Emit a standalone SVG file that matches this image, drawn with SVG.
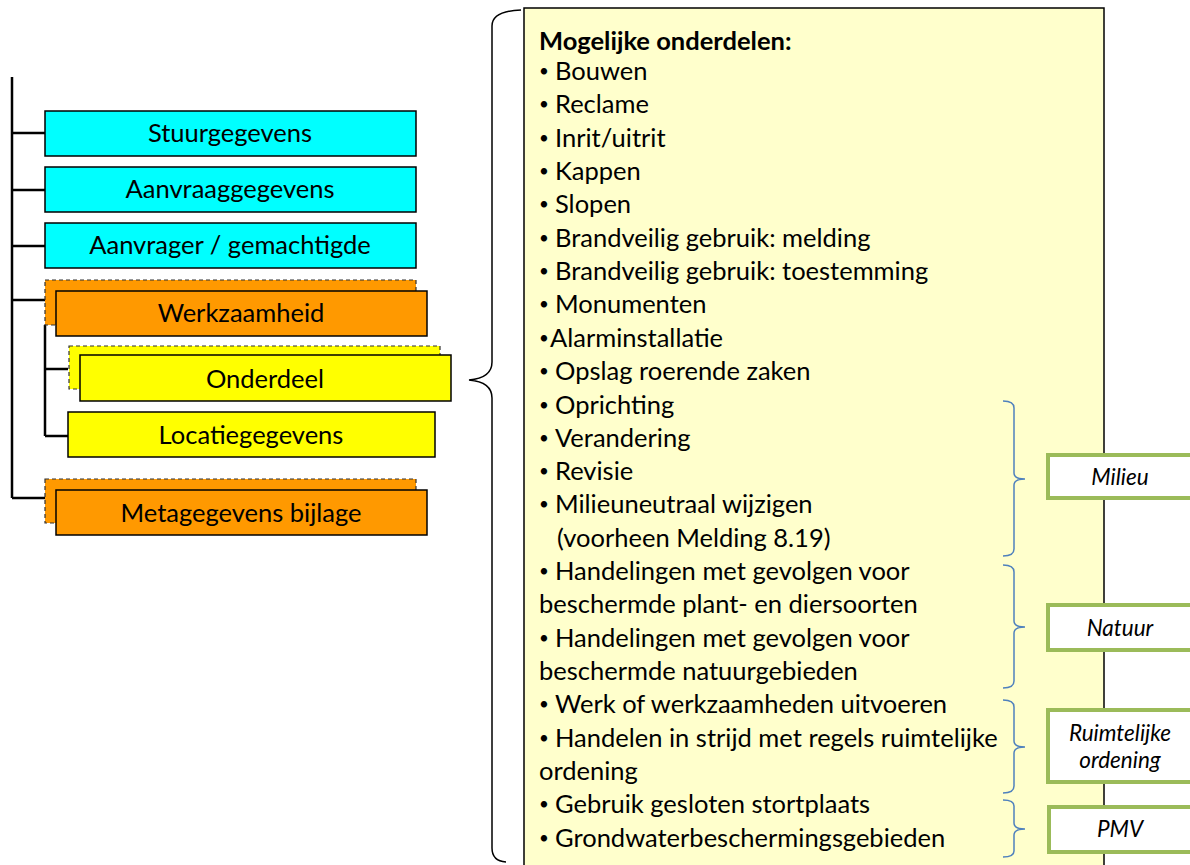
<svg xmlns="http://www.w3.org/2000/svg" width="1190" height="865" viewBox="0 0 1190 865">
<style>
.lbl{font-family:Lato,"Liberation Sans",sans-serif;font-size:25.5px;fill:#000;text-anchor:middle}
.box{stroke:#000;stroke-width:1.5}
.dash{stroke:#333;stroke-width:1.2;stroke-dasharray:4 3}
.cy{fill:#00FFFF}
.or{fill:#FF9900}
.ye{fill:#FFFF00}
.ln{stroke:#000;stroke-width:2.5;fill:none}
.t{font-family:Lato,"Liberation Sans",sans-serif;font-size:25.5px;fill:#000}
.b{font-size:17px}
.g{fill:#fff;stroke:#9BBB59;stroke-width:4}
.gt{font-family:Lato,"Liberation Sans",sans-serif;font-size:22.5px;font-style:italic;fill:#000;text-anchor:middle}
.br{stroke:#4F81BD;stroke-width:1.5;fill:none}
</style>
<rect width="1190" height="865" fill="#fff"/>
<g id="connectors">
<path class="ln" d="M12 77V498M12 133H45M12 190H45M12 246H45M12 300H45M12 498H45M45 325V436M45 369H68M45 436H68"/>
</g>
<g id="stuurgegevens"><rect class="box cy" x="45" y="111" width="371" height="45"/><text class="lbl" x="230" y="142">Stuurgegevens</text></g>
<g id="aanvraaggegevens"><rect class="box cy" x="45" y="167" width="371" height="45"/><text class="lbl" x="230" y="198">Aanvraaggegevens</text></g>
<g id="aanvrager"><rect class="box cy" x="45" y="223" width="371" height="45"/><text class="lbl" x="230" y="254">Aanvrager / gemachtigde</text></g>
<g id="werkzaamheid"><rect class="dash or" x="45" y="280" width="371" height="45"/><rect class="box or" x="56" y="291" width="371" height="45"/><text class="lbl" x="241" y="322">Werkzaamheid</text></g>
<g id="onderdeel"><rect class="dash ye" x="69" y="346" width="371" height="43"/><rect class="box ye" x="80" y="355" width="371" height="46"/><text class="lbl" x="265" y="388">Onderdeel</text></g>
<g id="locatiegegevens"><rect class="box ye" x="68" y="412" width="367" height="45"/><text class="lbl" x="251" y="444">Locatiegegevens</text></g>
<g id="metagegevens"><rect class="dash or" x="45" y="479" width="371" height="44"/><rect class="box or" x="56" y="490" width="371" height="45"/><text class="lbl" x="241" y="522">Metagegevens bijlage</text></g>
<g id="brace"><path d="M521 10Q492 11 492 26V362Q492 378 469 380Q492 382 492 398V848Q492 861 506 862" fill="none" stroke="#000" stroke-width="1.5"/></g>
<g id="onderdelen">
<rect x="524" y="8" width="580" height="870" fill="#FFFFCC" stroke="#000" stroke-width="1.5"/>
<text class="t" x="539" y="50" font-weight="bold">Mogelijke onderdelen:</text>
<text class="t" x="539" y="80"><tspan class="b" dy="-3">•</tspan><tspan x="555" dy="3">Bouwen</tspan></text>
<text class="t" x="539" y="113"><tspan class="b" dy="-3">•</tspan><tspan x="555" dy="3">Reclame</tspan></text>
<text class="t" x="539" y="147"><tspan class="b" dy="-3">•</tspan><tspan x="555" dy="3">Inrit/uitrit</tspan></text>
<text class="t" x="539" y="180"><tspan class="b" dy="-3">•</tspan><tspan x="555" dy="3">Kappen</tspan></text>
<text class="t" x="539" y="213"><tspan class="b" dy="-3">•</tspan><tspan x="555" dy="3">Slopen</tspan></text>
<text class="t" x="539" y="247"><tspan class="b" dy="-3">•</tspan><tspan x="555" dy="3">Brandveilig gebruik: melding</tspan></text>
<text class="t" x="539" y="280"><tspan class="b" dy="-3">•</tspan><tspan x="555" dy="3">Brandveilig gebruik: toestemming</tspan></text>
<text class="t" x="539" y="313"><tspan class="b" dy="-3">•</tspan><tspan x="555" dy="3">Monumenten</tspan></text>
<text class="t" x="539" y="347"><tspan class="b" dy="-3">•</tspan><tspan x="550" dy="3">Alarminstallatie</tspan></text>
<text class="t" x="539" y="380"><tspan class="b" dy="-3">•</tspan><tspan x="555" dy="3">Opslag roerende zaken</tspan></text>
<text class="t" x="539" y="414"><tspan class="b" dy="-3">•</tspan><tspan x="555" dy="3">Oprichting</tspan></text>
<text class="t" x="539" y="447"><tspan class="b" dy="-3">•</tspan><tspan x="555" dy="3">Verandering</tspan></text>
<text class="t" x="539" y="480"><tspan class="b" dy="-3">•</tspan><tspan x="555" dy="3">Revisie</tspan></text>
<text class="t" x="539" y="513"><tspan class="b" dy="-3">•</tspan><tspan x="555" dy="3">Milieuneutraal wijzigen</tspan></text>
<text class="t" x="557" y="547">(voorheen Melding 8.19)</text>
<text class="t" x="539" y="580"><tspan class="b" dy="-3">•</tspan><tspan x="555" dy="3">Handelingen met gevolgen voor</tspan></text>
<text class="t" x="539" y="613">beschermde plant- en diersoorten</text>
<text class="t" x="539" y="647"><tspan class="b" dy="-3">•</tspan><tspan x="555" dy="3">Handelingen met gevolgen voor</tspan></text>
<text class="t" x="539" y="680">beschermde natuurgebieden</text>
<text class="t" x="539" y="713"><tspan class="b" dy="-3">•</tspan><tspan x="555" dy="3">Werk of werkzaamheden uitvoeren</tspan></text>
<text class="t" x="539" y="747"><tspan class="b" dy="-3">•</tspan><tspan x="555" dy="3">Handelen in strijd met regels ruimtelijke</tspan></text>
<text class="t" x="539" y="780">ordening</text>
<text class="t" x="539" y="813"><tspan class="b" dy="-3">•</tspan><tspan x="555" dy="3">Gebruik gesloten stortplaats</tspan></text>
<text class="t" x="539" y="847"><tspan class="b" dy="-3">•</tspan><tspan x="555" dy="3">Grondwaterbeschermingsgebieden</tspan></text>
</g>
<g id="braces">
<path class="br" d="M1003 401Q1014 401 1014 408V473Q1014 479 1025 479Q1014 479 1014 485V549Q1014 556 1003 556"/>
<path class="br" d="M1003 565Q1014 565 1014 572V621Q1014 627 1025 627Q1014 627 1014 633V681Q1014 688 1003 688"/>
<path class="br" d="M1003 700Q1014 700 1014 707V741Q1014 747 1025 747Q1014 747 1014 753V786Q1014 793 1003 793"/>
<path class="br" d="M1003 800Q1014 800 1014 806V823Q1014 829 1025 829Q1014 829 1014 835V851Q1014 857 1003 857"/>
</g>
<g id="milieu"><rect class="g" x="1048" y="455" width="150" height="43"/><text class="gt" x="1120" y="485">Milieu</text></g>
<g id="natuur"><rect class="g" x="1048" y="605" width="150" height="45"/><text class="gt" x="1120" y="636">Natuur</text></g>
<g id="ruimtelijke"><rect class="g" x="1048" y="710" width="150" height="72"/><text class="gt" x="1120" y="741">Ruimtelijke</text><text class="gt" x="1120" y="768">ordening</text></g>
<g id="pmv"><rect class="g" x="1049" y="807" width="150" height="45"/><text class="gt" x="1120" y="837">PMV</text></g>
</svg>
